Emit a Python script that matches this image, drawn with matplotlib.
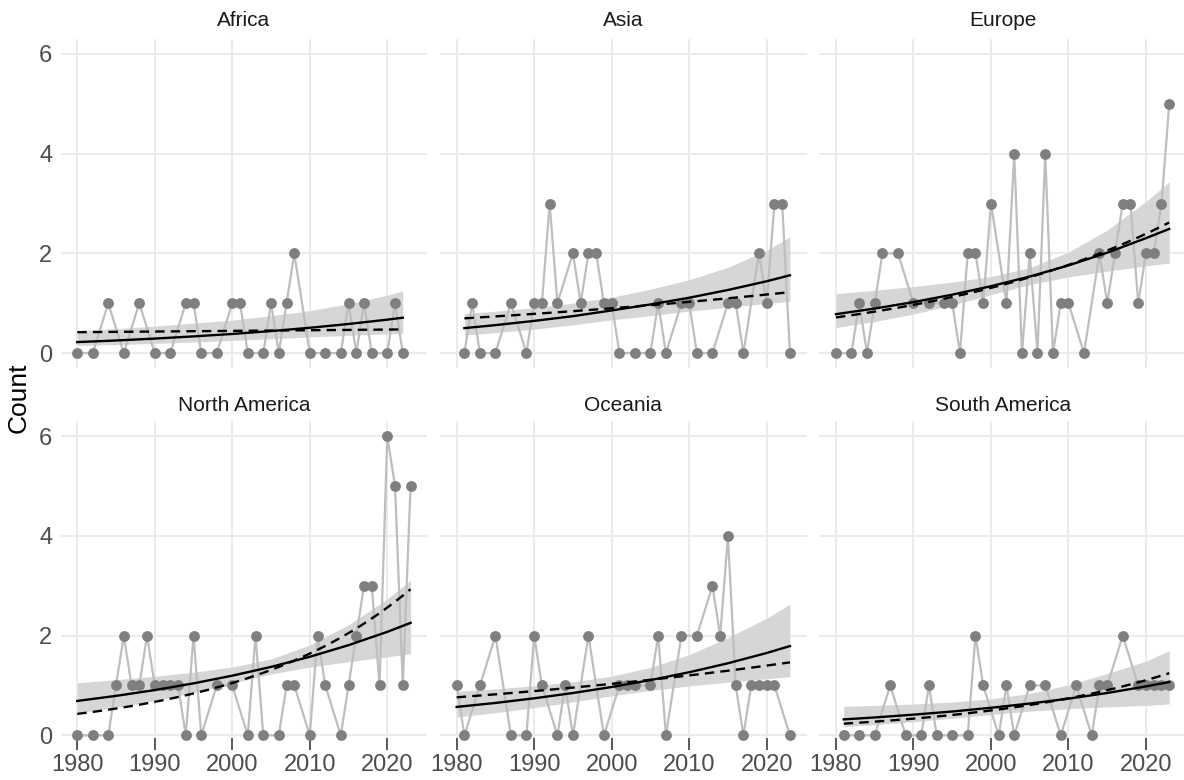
import numpy as np
import matplotlib
matplotlib.use("Agg")
import matplotlib.pyplot as plt

plt.rcParams["font.family"] = ["Liberation Sans", "DejaVu Sans"]

africa_years = [1980, 1982, 1984, 1986, 1988, 1990, 1992, 1994, 1995, 1996, 1998, 2000, 2001, 2002,
                2004, 2005, 2006, 2007, 2008, 2010, 2012, 2014, 2015, 2016, 2017, 2018, 2020, 2021, 2022]
africa_counts = [0, 0, 1, 0, 1, 0, 0, 1, 1, 0, 0, 1, 1, 0, 0, 1, 0, 1, 2, 0, 0, 0, 1, 0, 1, 0, 0, 1, 0]

asia_years = [1981, 1982, 1983, 1985, 1987, 1989, 1990, 1991, 1992, 1993, 1995, 1996, 1997, 1998, 1999,
              2000, 2001, 2003, 2005, 2006, 2007, 2009, 2010, 2011, 2013, 2015, 2016, 2017, 2019, 2020,
              2021, 2022, 2023]
asia_counts = [0, 1, 0, 0, 1, 0, 1, 1, 3, 1, 2, 1, 2, 2, 1, 1, 0, 0, 0, 1, 0, 1, 1, 0, 0, 1, 1, 0, 2, 1,
               3, 3, 0]

europe_years = [1980, 1982, 1983, 1984, 1985, 1986, 1988, 1990, 1992, 1994, 1995, 1996, 1997, 1998, 1999,
                2000, 2002, 2003, 2004, 2005, 2006, 2007, 2008, 2009, 2010, 2012, 2014, 2015, 2016, 2017,
                2018, 2019, 2020, 2021, 2022, 2023]
europe_counts = [0, 0, 1, 0, 1, 2, 2, 1, 1, 1, 1, 0, 2, 2, 1, 3, 1, 4, 0, 2, 0, 4, 0, 1, 1, 0, 2, 1, 2, 3,
                 3, 1, 2, 2, 3, 5]

namerica_years = [1980, 1982, 1984, 1985, 1986, 1987, 1988, 1989, 1990, 1991, 1992, 1993, 1994, 1995, 1996,
                  1998, 2000, 2002, 2003, 2004, 2006, 2007, 2008, 2010, 2011, 2012, 2014, 2015, 2016, 2017,
                  2018, 2019, 2020, 2021, 2022, 2023]
namerica_counts = [0, 0, 0, 1, 2, 1, 1, 2, 1, 1, 1, 1, 0, 2, 0, 1, 1, 0, 2, 0, 0, 1, 1, 0, 2, 1, 0, 1, 2, 3,
                   3, 1, 6, 5, 1, 5]

oceania_years = [1980, 1981, 1983, 1985, 1987, 1989, 1990, 1991, 1993, 1994, 1995, 1997, 1999, 2001, 2002,
                 2003, 2005, 2006, 2007, 2009, 2011, 2013, 2014, 2015, 2016, 2017, 2018, 2019, 2020, 2021, 2023]
oceania_counts = [1, 0, 1, 2, 0, 0, 2, 1, 0, 1, 0, 2, 0, 1, 1, 1, 1, 2, 0, 2, 2, 3, 2, 4, 1, 0, 1, 1, 1, 1, 0]

samerica_years = [1981, 1983, 1985, 1987, 1989, 1991, 1992, 1993, 1995, 1997, 1998, 1999, 2001, 2002, 2003,
                  2005, 2007, 2009, 2011, 2013, 2014, 2015, 2017, 2019, 2020, 2021, 2022, 2023]
samerica_counts = [0, 0, 0, 1, 0, 0, 1, 0, 0, 0, 2, 1, 0, 1, 0, 1, 1, 0, 1, 0, 1, 1, 2, 1, 1, 1, 1, 1]

# ---- pooled-model trend (solid) and its band, read every 5 years ----
africa_fit_years = [1980, 1985, 1990, 1995, 2000, 2005, 2010, 2015, 2020, 2022]
africa_fit = [0.220, 0.252, 0.290, 0.334, 0.383, 0.441, 0.507, 0.583, 0.670, 0.709]
africa_lo = [0.150, 0.171, 0.194, 0.222, 0.252, 0.287, 0.323, 0.354, 0.387, 0.390]
africa_hi = [0.450, 0.490, 0.540, 0.600, 0.660, 0.750, 0.850, 0.990, 1.160, 1.250]

asia_fit_years = [1981, 1985, 1990, 1995, 2000, 2005, 2010, 2015, 2020, 2023]
asia_fit = [0.500, 0.560, 0.645, 0.740, 0.855, 0.975, 1.110, 1.265, 1.440, 1.560]
asia_lo = [0.360, 0.410, 0.480, 0.565, 0.666, 0.750, 0.840, 0.920, 0.995, 1.035]
asia_hi = [0.790, 0.840, 0.910, 1.000, 1.120, 1.280, 1.470, 1.720, 2.060, 2.330]

europe_fit_years = [1980, 1985, 1990, 1995, 2000, 2005, 2010, 2015, 2020, 2023]
europe_fit = [0.780, 0.893, 1.022, 1.171, 1.341, 1.535, 1.758, 2.013, 2.305, 2.490]
europe_lo = [0.511, 0.633, 0.783, 0.964, 1.171, 1.375, 1.527, 1.643, 1.749, 1.804]
europe_hi = [1.190, 1.260, 1.335, 1.423, 1.535, 1.713, 2.024, 2.466, 3.040, 3.436]

namerica_fit_years = [1980, 1985, 1990, 1995, 2000, 2005, 2010, 2015, 2020, 2023]
namerica_fit = [0.690, 0.792, 0.908, 1.043, 1.197, 1.373, 1.576, 1.809, 2.076, 2.256]
namerica_lo = [0.452, 0.561, 0.695, 0.858, 1.045, 1.230, 1.369, 1.477, 1.575, 1.635]
namerica_hi = [1.054, 1.117, 1.186, 1.267, 1.371, 1.532, 1.814, 2.216, 2.736, 3.113]

oceania_fit_years = [1980, 1985, 1990, 1995, 2000, 2005, 2010, 2015, 2020, 2023]
oceania_fit = [0.570, 0.650, 0.743, 0.849, 0.970, 1.108, 1.266, 1.446, 1.652, 1.791]
oceania_lo = [0.368, 0.454, 0.555, 0.671, 0.792, 0.901, 0.991, 1.067, 1.135, 1.177]
oceania_hi = [0.882, 0.932, 0.994, 1.074, 1.188, 1.363, 1.618, 1.959, 2.350, 2.630]

samerica_fit_years = [1981, 1985, 1990, 1995, 2000, 2005, 2010, 2015, 2020, 2023]
samerica_fit = [0.320, 0.359, 0.415, 0.478, 0.553, 0.638, 0.736, 0.850, 0.982, 1.070]
samerica_lo = [0.176, 0.214, 0.274, 0.343, 0.418, 0.484, 0.534, 0.571, 0.600, 0.630]
samerica_hi = [0.583, 0.601, 0.629, 0.667, 0.732, 0.840, 1.013, 1.240, 1.490, 1.700]

panels = [
    ("Africa", africa_years, africa_counts, africa_fit_years, africa_fit, africa_lo, africa_hi),
    ("Asia", asia_years, asia_counts, asia_fit_years, asia_fit, asia_lo, asia_hi),
    ("Europe", europe_years, europe_counts, europe_fit_years, europe_fit, europe_lo, europe_hi),
    ("North America", namerica_years, namerica_counts, namerica_fit_years, namerica_fit, namerica_lo, namerica_hi),
    ("Oceania", oceania_years, oceania_counts, oceania_fit_years, oceania_fit, oceania_lo, oceania_hi),
    ("South America", samerica_years, samerica_counts, samerica_fit_years, samerica_fit, samerica_lo, samerica_hi),
]


def poisson_glm(x, y, n_iter=50):
    """Poisson GLM (log link) por IRLS; devuelve (beta, centro de x)."""
    x = np.asarray(x, float); y = np.asarray(y, float)
    xc = x.mean()
    X = np.column_stack([np.ones_like(x), x - xc])
    beta = np.array([np.log(y.mean()), 0.0])
    for _ in range(n_iter):
        eta = X @ beta
        mu = np.exp(eta)
        z = eta + (y - mu) / mu
        beta = np.linalg.solve(X.T @ (mu[:, None] * X), X.T @ (mu * z))
    return beta, xc


W, H = 1184, 780
fig = plt.figure(figsize=(W / 100, H / 100), dpi=100)

col_left = [60.6, 440.0, 819.3]
pw = 366.6
row_top = [39.0, 421.3]
ph = 329.0
strip_y = [20, 405]

for i, (name, yrs, cnt, fy, fit, lo, hi) in enumerate(panels):
    r, c = divmod(i, 3)
    ax = fig.add_axes([col_left[c] / W, 1 - (row_top[r] + ph) / H, pw / W, ph / H])
    ax.set_xlim(1977.85, 2025.15)
    ax.set_ylim(-0.3, 6.3)
    for s in ax.spines.values():
        s.set_visible(False)
    ax.set_xticks([1980, 1990, 2000, 2010, 2020])
    ax.set_yticks([0, 2, 4, 6])
    ax.grid(True, color="#EBEBEB", lw=1.4, zorder=0)
    ax.set_axisbelow(True)

    ax.fill_between(fy, lo, hi, color="#D6D6D6", lw=0, zorder=1)
    ax.plot(yrs, cnt, color="#BEBEBE", lw=1.6, zorder=2)
    ax.plot(yrs, cnt, "o", color="#7F7F7F", ms=7.8, mec="none", zorder=3)

    # ajuste Poisson por continente (línea discontinua)
    beta, xc = poisson_glm(yrs, cnt)
    xg = np.linspace(min(yrs), max(yrs), 200)
    ax.plot(xg, np.exp(beta[0] + beta[1] * (xg - xc)), color="black", lw=1.7,
            ls=(0, (4, 2.6)), zorder=4)
    ax.plot(fy, fit, color="black", lw=1.7, zorder=5)

    if r == 1:
        ax.tick_params(axis="x", direction="in", length=9, width=1.1, color="#333333",
                       labelsize=17, labelcolor="#4D4D4D", pad=3)
    else:
        ax.tick_params(axis="x", length=0, labelbottom=False)
    if c == 0:
        ax.tick_params(axis="y", length=0, labelsize=17, labelcolor="#4D4D4D", pad=6)
    else:
        ax.tick_params(axis="y", length=0, labelleft=False)

    fig.text((col_left[c] + pw / 2) / W, 1 - strip_y[r] / H, name, ha="center", va="center",
             fontsize=15, color="#1A1A1A")

fig.text(19 / W, 1 - 398 / H, "Count", rotation=90, ha="center", va="center", fontsize=19)

fig.savefig("out.png", dpi=100)
